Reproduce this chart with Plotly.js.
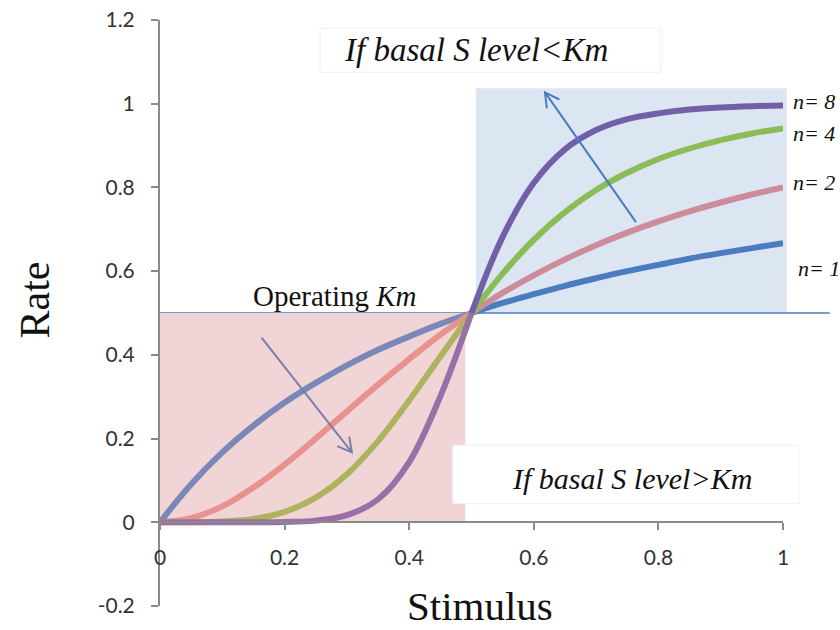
<!DOCTYPE html>
<html>
<head>
<meta charset="utf-8">
<script src="https://cdn.plot.ly/plotly-3.0.1.min.js"></script>
<style>
  html, body { margin: 0; padding: 0; background: #ffffff; }
  #chart { width: 840px; height: 630px; }
</style>
</head>
<body>
<div id="chart"></div>
<script>
// Stimulus levels (x) and response rates for Hill coefficients n = 1, 2, 4, 8
const stimulus = [0, 0.05, 0.1, 0.15, 0.2, 0.25, 0.3, 0.35, 0.4, 0.45, 0.5,
                  0.55, 0.6, 0.65, 0.7, 0.75, 0.8, 0.85, 0.9, 0.95, 1];
const rateN1 = [0, 0.091, 0.167, 0.231, 0.286, 0.333, 0.375, 0.412, 0.444, 0.474, 0.5,
                0.524, 0.545, 0.565, 0.583, 0.6, 0.615, 0.630, 0.643, 0.655, 0.667];
const rateN2 = [0, 0.010, 0.038, 0.083, 0.138, 0.2, 0.265, 0.329, 0.390, 0.448, 0.5,
                0.548, 0.590, 0.628, 0.662, 0.692, 0.719, 0.743, 0.764, 0.783, 0.8];
const rateN4 = [0, 0.0001, 0.002, 0.008, 0.025, 0.059, 0.115, 0.194, 0.291, 0.396, 0.5,
                0.594, 0.675, 0.741, 0.794, 0.835, 0.868, 0.893, 0.913, 0.929, 0.941];
const rateN8 = [0, 0, 0, 0.0001, 0.0007, 0.004, 0.017, 0.055, 0.144, 0.301, 0.5,
                0.682, 0.811, 0.891, 0.937, 0.963, 0.977, 0.986, 0.991, 0.994, 0.996];

const seriesNames = ['n= 1', 'n= 2', 'n= 4', 'n= 8'];
const seriesRates = [rateN1, rateN2, rateN4, rateN8];
// colours below Km (inside the pink zone) and above Km (inside the blue zone)
const lowColors  = ['#7a88b8', '#e8918f', '#b0b35e', '#9a6fa9'];
const highColors = ['#4a7cc0', '#cc8c9a', '#8cbc58', '#7160a8'];

const yTicks = [-0.2, 0, 0.2, 0.4, 0.6, 0.8, 1, 1.2];
const yTickText = ['-0.2', '0', '0.2', '0.4', '0.6', '0.8', '1', '1.2'];
const xTicks = [0, 0.2, 0.4, 0.6, 0.8, 1];
const xTickText = ['0', '0.2', '0.4', '0.6', '0.8', '1'];

const W = 840, H = 630;
const margin = { l: 160, r: 57, t: 20, b: 24 };
const xRange = [0, 1], yRange = [-0.2, 1.2];

const kmIndex = stimulus.indexOf(0.5);
const traces = [];
seriesRates.forEach((rates, i) => {
  traces.push({
    x: stimulus.slice(0, kmIndex + 1), y: rates.slice(0, kmIndex + 1),
    mode: 'lines', type: 'scatter', name: seriesNames[i], showlegend: false,
    line: { color: lowColors[i], width: 6, shape: 'spline' }, hoverinfo: 'skip'
  });
  traces.push({
    x: stimulus.slice(kmIndex), y: rates.slice(kmIndex),
    mode: 'lines', type: 'scatter', name: seriesNames[i], showlegend: false,
    line: { color: highColors[i], width: 6, shape: 'spline' }, hoverinfo: 'skip'
  });
});

// open-V arrow drawn as a shape path in data coordinates
const pxPerX = (W - margin.l - margin.r) / (xRange[1] - xRange[0]);
const pxPerY = (H - margin.t - margin.b) / (yRange[1] - yRange[0]);
function arrowShape(tail, head, color) {
  const ang = Math.atan2((head[1] - tail[1]) * pxPerY, (head[0] - tail[0]) * pxPerX);
  const len = 16, spread = 0.5;
  const arm = s => {
    const a = ang + Math.PI + s * spread;
    return [head[0] + len * Math.cos(a) / pxPerX, head[1] + len * Math.sin(a) / pxPerY];
  };
  const a1 = arm(1), a2 = arm(-1);
  return {
    type: 'path', layer: 'above', xref: 'x', yref: 'y',
    path: `M${tail[0]},${tail[1]} L${head[0]},${head[1]} M${a1[0]},${a1[1]} L${head[0]},${head[1]} L${a2[0]},${a2[1]}`,
    line: { color: color, width: 2 }
  };
}

const serif = 'Liberation Serif, Times New Roman, serif';
const tickFont = { family: 'Lato, Carlito, Calibri, sans-serif', size: 21, color: '#333333' };

const labelY = [0.607, 0.812, 0.929, 1.006];
const labelX = [1.057, 1.05, 1.05, 1.05];

const annotations = [
  { xref: 'paper', yref: 'paper', x: -0.2, y: 0.522, xanchor: 'center', yanchor: 'middle',
    text: 'Rate', textangle: -90,
    showarrow: false, font: { family: serif, size: 42, color: '#111' } },
  { xref: 'paper', yref: 'paper', x: 0.514, y: 0.0, xanchor: 'center', yanchor: 'middle',
    text: 'Stimulus', showarrow: false, font: { family: serif, size: 41, color: '#111' } },
  { xref: 'x', yref: 'y', x: 0.507, y: 1.128, xanchor: 'center', yanchor: 'middle',
    text: '<i>If basal S level&lt;Km</i>',
    showarrow: false, font: { family: serif, size: 33, color: '#111' } },
  { xref: 'x', yref: 'y', x: 0.758, y: 0.105, xanchor: 'center', yanchor: 'middle',
    text: '<i>If basal S level&gt;Km</i>',
    showarrow: false, font: { family: serif, size: 30, color: '#111' } },
  { xref: 'x', yref: 'y', x: 0.281, y: 0.54, xanchor: 'center', yanchor: 'middle',
    text: 'Operating <i>Km</i>',
    showarrow: false, font: { family: serif, size: 29, color: '#111' } }
];
seriesNames.forEach((name, i) => {
  annotations.push({
    xref: 'paper', yref: 'y', x: labelX[i], y: labelY[i], xanchor: 'center', yanchor: 'middle',
    text: '<i>' + name + '</i>', showarrow: false,
    font: { family: serif, size: 22, color: '#111' }
  });
});

const shapes = [
  // region below Km
  { type: 'rect', layer: 'below', xref: 'x', yref: 'y', x0: 0, x1: 0.49, y0: 0, y1: 0.5,
    fillcolor: '#f0d4d6', line: { width: 0 } },
  // region above Km
  { type: 'rect', layer: 'below', xref: 'paper', yref: 'y', x0: 0.507, x1: 1.006, y0: 0.5, y1: 1.037,
    fillcolor: '#dce6f2', line: { width: 0 } },
  // operating Km level
  { type: 'line', layer: 'below', xref: 'paper', yref: 'y', x0: 0, x1: 1.075, y0: 0.5, y1: 0.5,
    line: { color: '#4a7cc0', width: 1.5 } },
  // white label boxes
  { type: 'rect', layer: 'above', xref: 'paper', yref: 'y', x0: 0.257, x1: 0.803, y0: 1.075, y1: 1.18,
    fillcolor: '#ffffff', line: { color: '#f0f0f0', width: 1 } },
  { type: 'rect', layer: 'above', xref: 'paper', yref: 'y', x0: 0.470, x1: 1.026, y0: 0.045, y1: 0.184,
    fillcolor: '#ffffff', line: { color: '#f2f2f2', width: 1 } },
  // trend arrows (increasing n)
  arrowShape([0.764, 0.717], [0.618, 1.027], '#4a7cc0'),
  arrowShape([0.163, 0.441], [0.308, 0.167], '#7880a8')
];

const layout = {
  width: W, height: H,
  margin: margin,
  paper_bgcolor: '#ffffff', plot_bgcolor: 'rgba(0,0,0,0)',
  showlegend: false,
  xaxis: {
    range: xRange, anchor: 'free', position: (0 - yRange[0]) / (yRange[1] - yRange[0]),
    tickmode: 'array', tickvals: xTicks, ticktext: xTickText,
    showgrid: false, zeroline: false, showline: true, linecolor: '#8a8a8a', linewidth: 2,
    ticks: 'outside', ticklen: 7, tickwidth: 2, tickcolor: '#8a8a8a',
    ticklabelstandoff: 10, tickfont: tickFont
  },
  yaxis: {
    range: yRange,
    tickmode: 'array', tickvals: yTicks, ticktext: yTickText,
    showgrid: false, zeroline: false, showline: true, linecolor: '#8a8a8a', linewidth: 2,
    ticks: 'outside', ticklen: 7, tickwidth: 2, tickcolor: '#8a8a8a',
    ticklabelstandoff: 12, tickfont: tickFont
  },
  shapes: shapes,
  annotations: annotations
};

Plotly.newPlot('chart', traces, layout, { staticPlot: true, displayModeBar: false });
</script>
</body>
</html>
